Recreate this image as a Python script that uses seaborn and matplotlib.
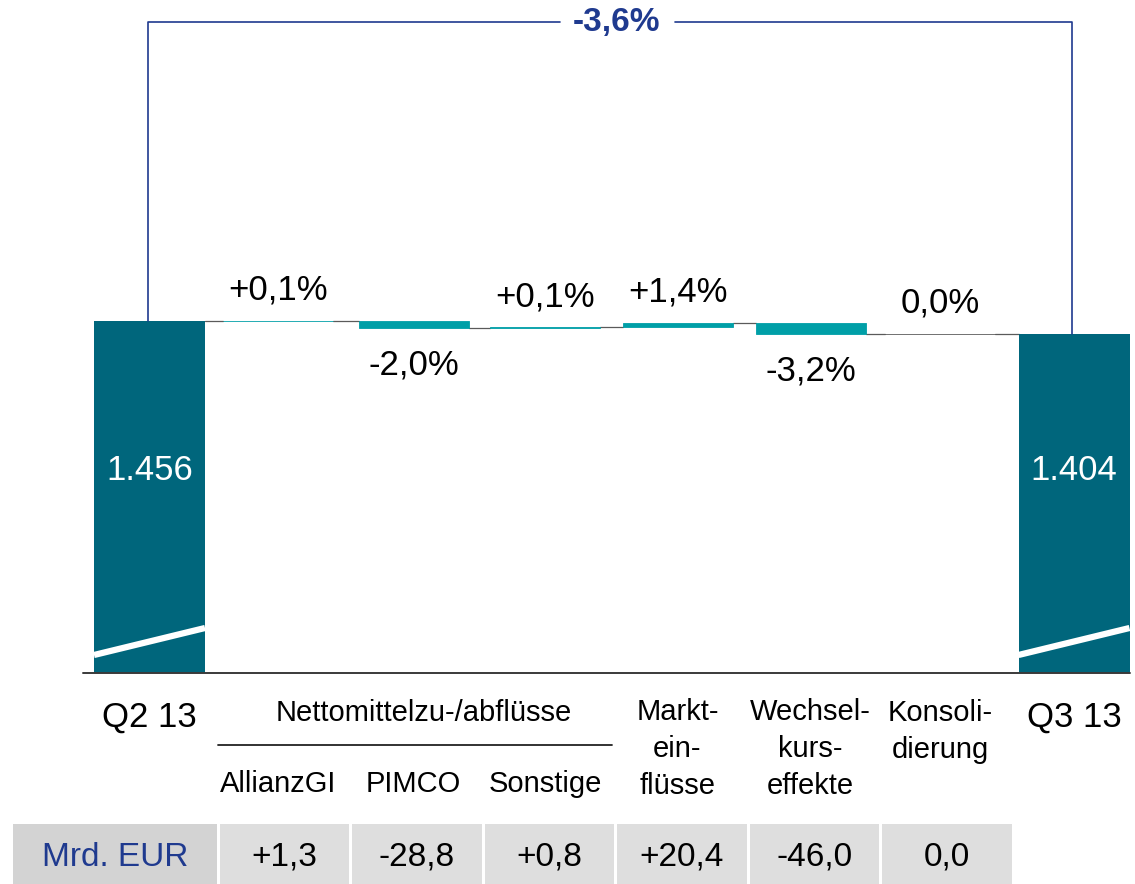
import numpy as np
import pandas as pd
import matplotlib
matplotlib.use("Agg")
import matplotlib.pyplot as plt
from matplotlib.patches import Rectangle
import seaborn as sns

# Daten
periods = ["Q2 13", "Q3 13"]
totals = [1456, 1404]
total_labels = ["1.456", "1.404"]
steps = ["AllianzGI", "PIMCO", "Sonstige", "Markt-\nein-\nflüsse",
         "Wechsel-\nkurs-\neffekte", "Konsoli-\ndierung"]
deltas = [1.3, -28.8, 0.8, 20.4, -46.0, 0.0]
delta_pct = ["+0,1%", "-2,0%", "+0,1%", "+1,4%", "-3,2%", "0,0%"]
total_change = "-3,6%"
group_label = "Nettomittelzu-/abflüsse"
unit_label = "Mrd. EUR"

# Layout (Pixel)
W, H = 1135, 884
base_px = 673
scale = (base_px - 321) / totals[0]   # Pixel pro Mrd. EUR
total_x = [149.5, 1074]
total_w = 111
step_x = [278, 413.5, 545, 677.5, 810.5, 940]
step_w = 110
table_cells = [(220, 349), (352, 482), (485, 614), (617, 747), (750, 879), (882, 1012)]

DARK = "#00667C"
TEAL = "#009FA7"
BLUE = "#1F3A8F"
GREY = "#5A5A5A"

sns.set_theme(style="white")
plt.rcParams['font.family'] = ['Liberation Sans', 'DejaVu Sans']
plt.rcParams['text.color'] = 'black'

df = pd.DataFrame({"step": steps, "delta": deltas, "pct": delta_pct, "x": step_x})
df["end"] = totals[0] + df["delta"].cumsum()
df["start"] = df["end"] - df["delta"]

fig = plt.figure(figsize=(W / 100, H / 100), dpi=100)
ax = fig.add_axes([0, (H - base_px) / H, 1, base_px / H])
ax.set_xlim(0, W)
ax.set_ylim(0, base_px / scale)
ax.axis('off')

# Summenbalken
ax.bar(total_x, totals, width=total_w, color=DARK, linewidth=0, zorder=2)
for x, lab in zip(total_x, total_labels):
    ax.text(x, (base_px - 470) / scale, lab, color="white", fontsize=25,
            ha="center", va="center", zorder=4)

# Veränderungsbalken
edges = [TEAL if d != 0 else GREY for d in deltas]
ax.bar(df["x"], df["delta"], bottom=df["start"], width=step_w, color=TEAL,
       edgecolor=edges, linewidth=0.6, zorder=2)
for _, r in df.iterrows():
    top = max(r["start"], r["end"])
    bot = min(r["start"], r["end"])
    if r["delta"] < 0:
        ax.annotate(r["pct"], (r["x"], bot), xytext=(0, -27), textcoords="offset points",
                    ha="center", va="center", fontsize=25)
    else:
        ax.annotate(r["pct"], (r["x"], top), xytext=(0, 22), textcoords="offset points",
                    ha="center", va="center", fontsize=25)

# Verbindungslinien
xs = [total_x[0]] + step_x + [total_x[1]]
ws = [total_w] + [step_w] * len(steps) + [total_w]
levels = [totals[0]] + list(df["end"])
for i, lev in enumerate(levels):
    ax.plot([xs[i] + ws[i] / 2, xs[i + 1] - ws[i + 1] / 2], [lev, lev],
            color=GREY, lw=0.9, zorder=1)

# Grundlinie
ax.plot([83, 1130], [0, 0], color="#3A3A3A", lw=1.4, zorder=3, clip_on=False)

# Overlay-Achse für Beschriftungen und Tabelle
ov = fig.add_axes([0, 0, 1, 1], zorder=5)
ov.set_xlim(0, W)
ov.set_ylim(H, 0)
ov.axis('off')
ov.patch.set_alpha(0)

# Bruchmarkierung
for x in total_x:
    ov.plot([x - total_w / 2, x + total_w / 2], [655, 628], color="white", lw=4.5,
            solid_capstyle="butt")

# Klammer mit Gesamtveränderung
y_top = 22
y_l = base_px - totals[0] * scale
y_r = base_px - totals[1] * scale
ov.plot([total_x[0] - 2, total_x[0] - 2, 560], [y_l, y_top, y_top], color=BLUE, lw=1.2)
ov.plot([675, total_x[1] - 2, total_x[1] - 2], [y_top, y_top, y_r], color=BLUE, lw=1.2)
ov.text(617, y_top, total_change, color=BLUE, fontsize=24, fontweight="bold",
        ha="center", va="center")

# Kategorien unter der Achse
for x, p in zip(total_x, periods):
    ov.text(x, 717, p, fontsize=25, ha="center", va="center")
ov.text(424, 713, group_label, fontsize=21, ha="center", va="center")
ov.plot([218, 612], [745, 745], color="#222222", lw=1.3)
for x, s in zip(step_x, steps):
    n = s.count("\n") + 1
    y = 784 if n == 1 else 714 + (n - 1) * 35 / 2
    ov.text(x, y, s, fontsize=21, ha="center", va="center", linespacing=1.4)

# Tabelle
ov.add_patch(Rectangle((13, 824), 204, 60, color="#D3D3D3", lw=0))
ov.text(115, 857, unit_label, color=BLUE, fontsize=24, ha="center", va="center")
for (x0, x1), d in zip(table_cells, deltas):
    ov.add_patch(Rectangle((x0, 824), x1 - x0, 60, color="#DEDEDE", lw=0))
    txt = "0,0" if d == 0 else f"{d:+.1f}".replace(".", ",")
    ov.text((x0 + x1) / 2, 857, txt, fontsize=24, ha="center", va="center")

fig.savefig("out.png", dpi=100)
